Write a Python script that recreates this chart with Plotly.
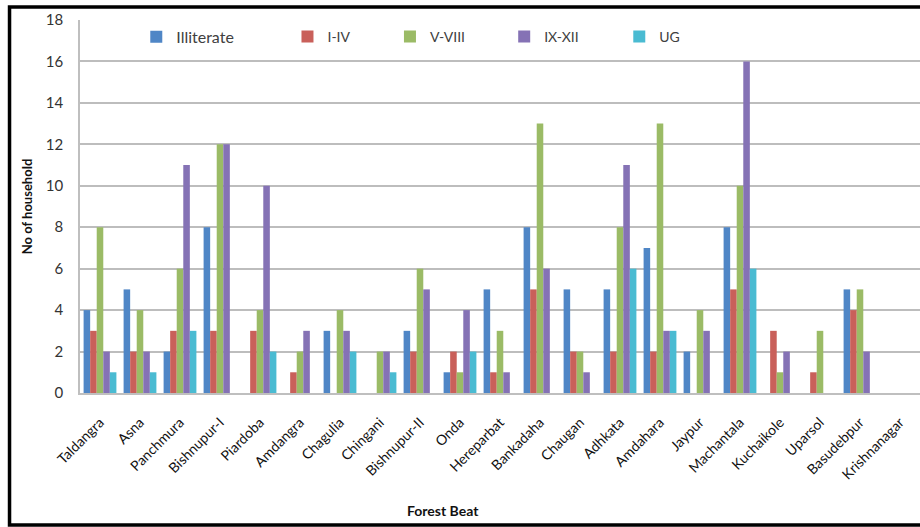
import plotly.graph_objects as go

# Forest beats on the x axis
beats = ["Taldangra", "Asna", "Panchmura", "Bishnupur-I", "Piardoba", "Amdangra",
         "Chagulia", "Chingani", "Bishnupur-II", "Onda", "Hereparbat", "Bankadaha",
         "Chaugan", "Adhkata", "Amdahara", "Jaypur", "Machantala", "Kuchaikole",
         "Uparsol", "Basudebpur", "Krishnanagar"]

# Number of households by education level
illiterate = [4, 5, 2, 8, 0, 0, 3, 0, 3, 1, 5, 8, 5, 5, 7, 2, 8, 0, 0, 5, 0]
i_iv       = [3, 2, 3, 3, 3, 1, 0, 0, 2, 2, 1, 5, 2, 2, 2, 0, 5, 3, 1, 4, 0]
v_viii     = [8, 4, 6, 12, 4, 2, 4, 2, 6, 1, 3, 13, 2, 8, 13, 4, 10, 1, 3, 5, 0]
ix_xii     = [2, 2, 11, 12, 10, 3, 3, 2, 5, 4, 1, 6, 1, 11, 3, 3, 16, 2, 0, 2, 0]
ug         = [1, 1, 3, 0, 2, 0, 2, 1, 0, 2, 0, 0, 0, 6, 3, 0, 6, 0, 0, 0, 0]

y_ticks = [0, 2, 4, 6, 8, 10, 12, 14, 16, 18]

series = [
    ("Illiterate", illiterate, "#4F86C6", "legend",  0.067, 16),
    ("I-IV",       i_iv,       "#C9605A", "legend2", 0.247, 14),
    ("V-VIII",     v_viii,     "#9BBB66", "legend3", 0.369, 14),
    ("IX-XII",     ix_xii,     "#8572B5", "legend4", 0.505, 14),
    ("UG",         ug,         "#4ABBD2", "legend5", 0.642, 14),
]

FONT = "Lato, 'Liberation Sans', sans-serif"

fig = go.Figure()
legend_layout = {}
for name, vals, color, leg, lx, fsize in series:
    fig.add_trace(go.Bar(x=beats, y=vals, name=name, marker_color=color,
                         marker_line_width=0, legend=leg))
    legend_layout[leg] = dict(
        x=lx, y=0.955, xanchor="left", yanchor="middle",
        orientation="h", bgcolor="rgba(0,0,0,0)", borderwidth=0,
        font=dict(family=FONT, size=fsize, color="#404040"),
    )

fig.update_layout(
    width=920, height=527,
    margin=dict(l=80, r=0, t=20, b=134),
    paper_bgcolor="white", plot_bgcolor="white",
    barmode="group", bargap=0.18, bargroupgap=0,
    font=dict(family=FONT, color="#222222"),
    showlegend=True,
    **legend_layout,
)

fig.update_xaxes(
    type="category", tickangle=-45, showgrid=False,
    tickfont=dict(family=FONT, size=14, color="#111111"),
    showline=True, linecolor="#BFBFBF", linewidth=1.5,
    ticks="", ticklabelstandoff=14, automargin=False,
)
fig.update_yaxes(
    range=[0, 18], tickvals=y_ticks, showgrid=True,
    gridcolor="#BDBDBD", gridwidth=1.5,
    showline=True, linecolor="#BFBFBF", linewidth=1.5,
    zeroline=False, ticks="", ticklabelstandoff=12,
    tickfont=dict(family=FONT, size=15, color="#333333"),
    automargin=False,
    title=dict(text="<b>No of household</b>", font=dict(family=FONT, size=13, color="#111111"),
               standoff=10),
)

# X axis title, set slightly left of the plot centre
fig.add_annotation(text="<b>Forest Beat</b>", xref="paper", yref="paper",
                   x=0.432, y=-0.314, xanchor="center", yanchor="middle",
                   showarrow=False, font=dict(family=FONT, size=14, color="#111111"))

# Black frame around the whole figure
fig.add_shape(type="rect", xref="paper", yref="paper",
              x0=-0.0839, x1=1.03, y0=-0.354, y1=1.035,
              line=dict(color="black", width=3.5), fillcolor="rgba(0,0,0,0)")

fig.write_html("out.html")
